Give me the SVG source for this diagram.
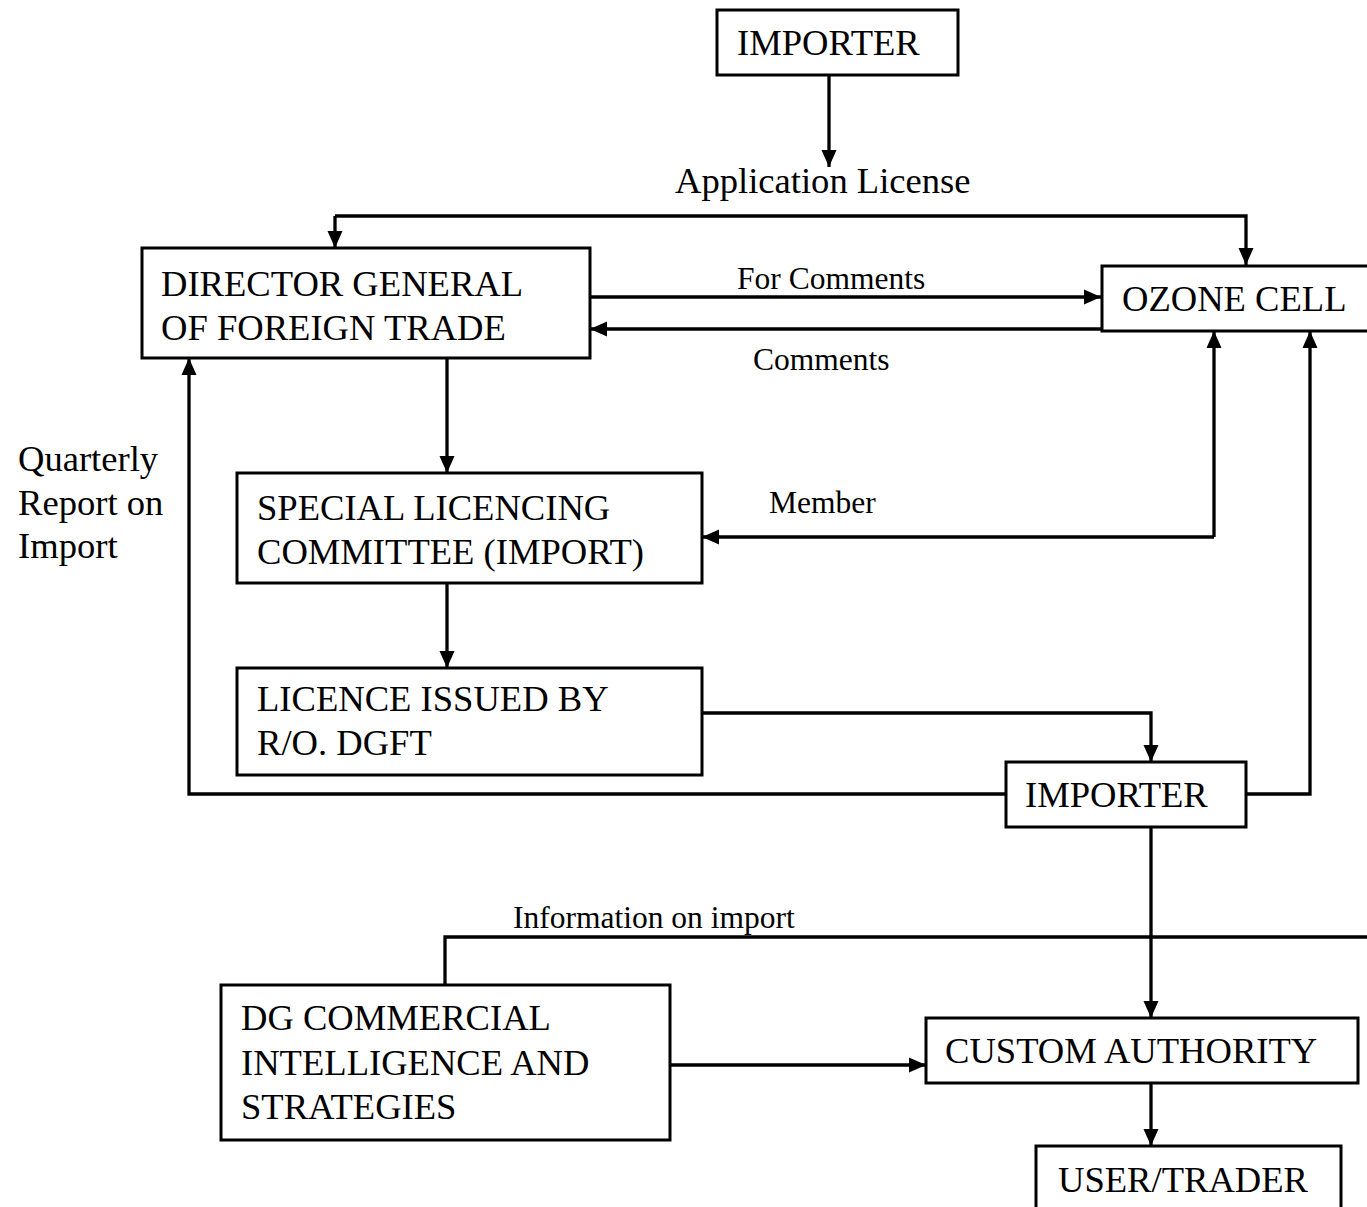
<svg xmlns="http://www.w3.org/2000/svg" width="1367" height="1207" viewBox="0 0 1367 1207">
<style>
.box{fill:#fff;stroke:#000;stroke-width:3}
.t{font-family:"Liberation Serif","Times New Roman",serif;font-size:36.6px;fill:#000}
.s{font-family:"Liberation Serif","Times New Roman",serif;font-size:31.5px;fill:#000}
.c{fill:none;stroke:#000;stroke-width:3.3}
</style>
<defs>
<marker id="ah" markerUnits="userSpaceOnUse" markerWidth="18" markerHeight="16" refX="17" refY="8" orient="auto">
<path d="M0,0.5 L17,8 L0,15.5 Z" fill="#000"/>
</marker>
</defs>
<rect width="1367" height="1207" fill="#fff"/>
<g id="connectors">
<line class="c" x1="829" y1="75" x2="829" y2="167" marker-end="url(#ah)"/>
<polyline class="c" points="335,216 1246,216 1246,265" marker-end="url(#ah)"/>
<line class="c" x1="335" y1="216" x2="335" y2="248" marker-end="url(#ah)"/>
<line class="c" x1="590" y1="297" x2="1101" y2="297" marker-end="url(#ah)"/>
<line class="c" x1="1101" y1="329" x2="590" y2="329" marker-end="url(#ah)"/>
<line class="c" x1="447" y1="358" x2="447" y2="473" marker-end="url(#ah)"/>
<line class="c" x1="447" y1="583" x2="447" y2="668" marker-end="url(#ah)"/>
<polyline class="c" points="1214,537 702,537" marker-end="url(#ah)"/>
<polyline class="c" points="1214,537 1214,331" marker-end="url(#ah)"/>
<polyline class="c" points="702,713 1151,713 1151,762" marker-end="url(#ah)"/>
<polyline class="c" points="1006,794 189,794 189,358" marker-end="url(#ah)"/>
<polyline class="c" points="1246,794 1310,794 1310,331" marker-end="url(#ah)"/>
<line class="c" x1="1151" y1="827" x2="1151" y2="1018" marker-end="url(#ah)"/>
<polyline class="c" points="445,985 445,937 1370,937"/>
<line class="c" x1="670" y1="1065" x2="926" y2="1065" marker-end="url(#ah)"/>
<line class="c" x1="1151" y1="1083" x2="1151" y2="1146" marker-end="url(#ah)"/>
<text class="t" x="675" y="193">Application License</text>
<text class="s" x="737" y="289">For Comments</text>
<text class="s" x="753" y="370">Comments</text>
<text class="s" x="769" y="513">Member</text>
<text class="s" x="513" y="928">Information on import</text>
<text class="t" x="18" y="471">Quarterly</text>
<text class="t" x="18" y="515">Report on</text>
<text class="t" x="18" y="558">Import</text>
</g>
<g id="importer-top">
<rect class="box" x="717" y="10" width="241" height="65"/>
<text class="t" x="737" y="55">IMPORTER</text>
</g>
<g id="dgft">
<rect class="box" x="142" y="248" width="448" height="110"/>
<text class="t" x="161" y="296">DIRECTOR GENERAL</text>
<text class="t" x="161" y="340">OF FOREIGN TRADE</text>
</g>
<g id="ozone">
<rect class="box" x="1102" y="266" width="280" height="65"/>
<text class="t" x="1122" y="311">OZONE CELL</text>
</g>
<g id="slc">
<rect class="box" x="237" y="473" width="465" height="110"/>
<text class="t" x="257" y="520">SPECIAL LICENCING</text>
<text class="t" x="257" y="564">COMMITTEE (IMPORT)</text>
</g>
<g id="licence">
<rect class="box" x="237" y="668" width="465" height="107"/>
<text class="t" x="257" y="711">LICENCE ISSUED BY</text>
<text class="t" x="257" y="755">R/O. DGFT</text>
</g>
<g id="importer2">
<rect class="box" x="1006" y="762" width="240" height="65"/>
<text class="t" x="1025" y="807">IMPORTER</text>
</g>
<g id="dgcis">
<rect class="box" x="221" y="985" width="449" height="155"/>
<text class="t" x="241" y="1030">DG COMMERCIAL</text>
<text class="t" x="241" y="1075">INTELLIGENCE AND</text>
<text class="t" x="241" y="1119">STRATEGIES</text>
</g>
<g id="custom">
<rect class="box" x="926" y="1018" width="432" height="65"/>
<text class="t" x="945" y="1063">CUSTOM AUTHORITY</text>
</g>
<g id="user">
<rect class="box" x="1036" y="1146" width="305" height="75"/>
<text class="t" x="1058" y="1192">USER/TRADER</text>
</g>
</svg>
